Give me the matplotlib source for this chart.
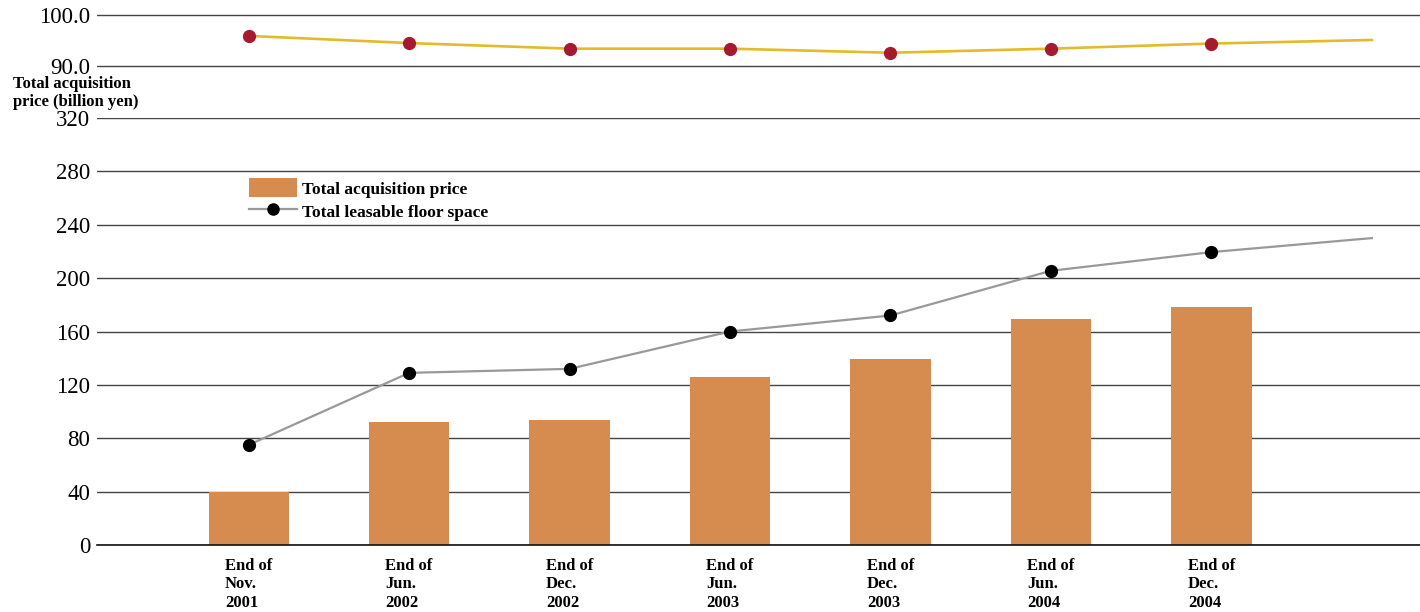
import matplotlib
matplotlib.use("Agg")
import matplotlib.pyplot as plt
from matplotlib.lines import Line2D
from matplotlib.patches import Patch

plt.rcParams['font.family'] = ['Liberation Serif', 'DejaVu Serif']

categories = ["End of\nNov.\n2001", "End of\nJun.\n2002", "End of\nDec.\n2002",
              "End of\nJun.\n2003", "End of\nDec.\n2003", "End of\nJun.\n2004",
              "End of\nDec.\n2004"]
acquisition_price = [40, 92, 94, 126, 139.5, 169.5, 178]
floor_space = [75, 129, 132, 160, 172, 205.5, 219.5, 230]
occupancy = [95.9, 94.5, 93.4, 93.4, 92.6, 93.4, 94.4, 95.1]
lower_ticks = [0, 40, 80, 120, 160, 200, 240, 280, 320]
upper_ticks = [90.0, 100.0]

W, H = 1420, 612
fig = plt.figure(figsize=(W / 100, H / 100), dpi=100)

left = 97 / W
pad_px = 6
ppu = (66 - 15) / 10.0
ax_top = fig.add_axes([left, 1 - (66 + pad_px) / H, 1 - left, (66 - 15 + 2 * pad_px) / H])
ax = fig.add_axes([left, 1 - 545 / H, 1 - left, (545 - 118) / H])

xlim = (-0.945, 7.30)
bar_color = '#D68C4E'
grid_color = '#444444'

# lower panel
x_cat = list(range(len(categories)))
x_line = list(range(len(floor_space)))
ax.bar(x_cat, acquisition_price, width=0.5, color=bar_color, zorder=2)
ax.plot(x_line, floor_space, color='#999999', lw=1.6, zorder=3)
ax.plot(x_cat, floor_space[:len(categories)], 'o', color='black', ms=8.5, zorder=4)
ax.set_xlim(*xlim)
ax.set_ylim(0, 320)
ax.set_yticks(lower_ticks)
ax.set_yticklabels([str(t) for t in lower_ticks], fontsize=16.5)
ax.yaxis.grid(True, color=grid_color, lw=1.0, zorder=0)
ax.set_axisbelow(True)
for s in ['top', 'right', 'left']:
    ax.spines[s].set_visible(False)
ax.spines['bottom'].set_color('#111111')
ax.spines['bottom'].set_linewidth(1.2)
ax.tick_params(axis='y', length=0, pad=5)
ax.tick_params(axis='x', length=0, pad=9)
ax.set_xticks(x_cat)
ax.set_xticklabels(categories, fontsize=12, fontweight='bold', linespacing=1.22,
                   va='top', multialignment='left')

# upper panel
ax_top.plot(x_line, occupancy, color='#E3BB2A', lw=1.9, zorder=3)
ax_top.plot(x_cat, occupancy[:len(categories)], 'o', color='#A6192E', ms=8.5, zorder=4)
ax_top.set_xlim(*xlim)
ax_top.set_ylim(90 - pad_px / ppu, 100 + pad_px / ppu)
ax_top.set_yticks(upper_ticks)
ax_top.set_yticklabels([f"{t:.1f}" for t in upper_ticks], fontsize=16.5)
ax_top.yaxis.grid(True, color=grid_color, lw=1.0, zorder=0)
for s in ['top', 'right', 'left', 'bottom']:
    ax_top.spines[s].set_visible(False)
ax_top.tick_params(axis='y', length=0, pad=5)
ax_top.set_xticks([])
ax_top.patch.set_alpha(0)

# axis title
fig.text(13 / W, 1 - 93 / H, "Total acquisition\nprice (billion yen)", fontsize=12,
         fontweight='bold', ha='left', va='center', linespacing=1.1)

# legend
handles = [Patch(facecolor=bar_color, edgecolor='none'),
           Line2D([0], [0], color='#999999', lw=1.6, marker='o', markerfacecolor='black',
                  markeredgecolor='black', ms=8)]
leg = ax.legend(handles, ["Total acquisition price", "Total leasable floor space"],
                loc='upper left',
                bbox_to_anchor=((249 - 97) / (W - 97), 1 - (178 - 118) / 427),
                frameon=False, prop={'weight': 'bold', 'size': 12.5},
                handlelength=2.75, handleheight=1.35, handletextpad=0.3, labelspacing=0.2,
                borderpad=0, borderaxespad=0)

fig.savefig("out.png", dpi=100)
